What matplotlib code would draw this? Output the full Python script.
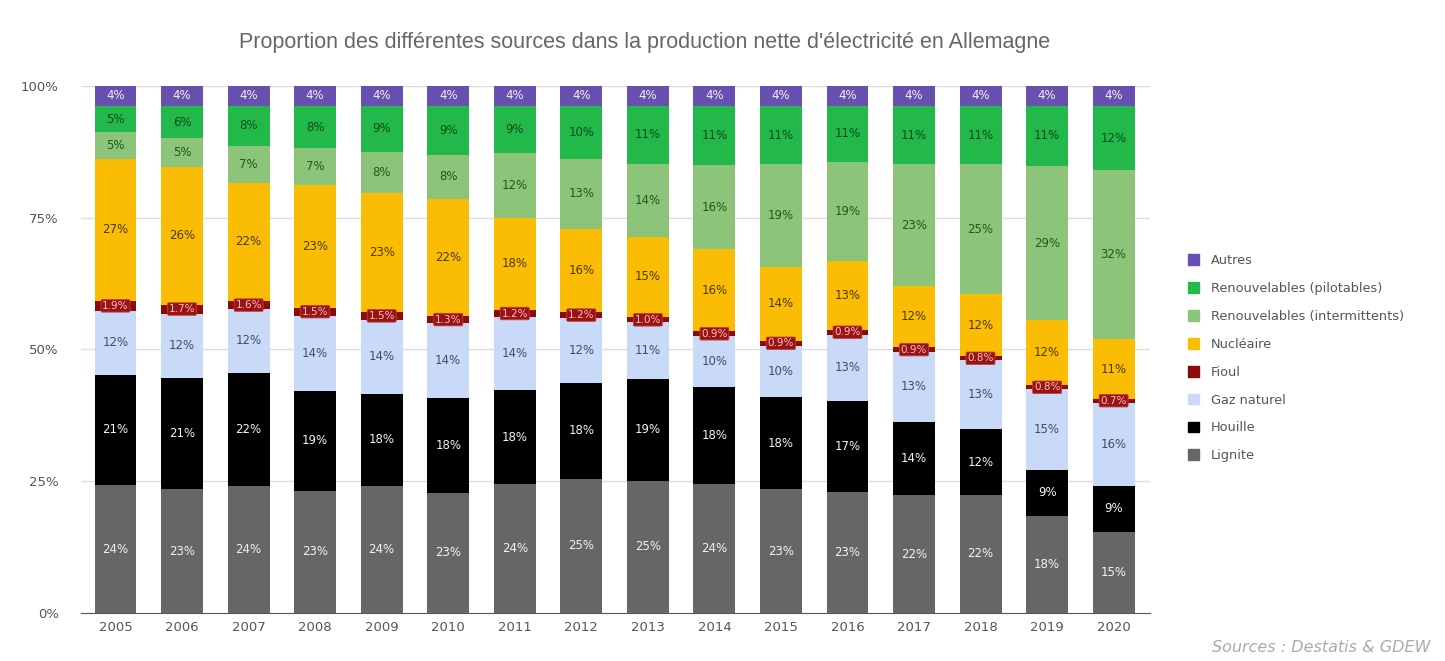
import matplotlib.pyplot as plt
import numpy as np
from matplotlib.patches import Patch

plt.rcParams['font.family'] = ['DejaVu Sans']

years = ['2005', '2006', '2007', '2008', '2009', '2010', '2011', '2012',
         '2013', '2014', '2015', '2016', '2017', '2018', '2019', '2020']

# shares in % (bottom to top of each bar)
lignite = [24.2, 23.4, 24.0, 23.2, 24.0, 22.7, 24.4, 25.4, 25.1, 24.4, 23.4, 23.0, 22.3, 22.4, 18.4, 15.4]
houille = [21.0, 21.2, 21.6, 18.9, 17.6, 18.0, 17.8, 18.2, 19.3, 18.4, 17.6, 17.2, 14.0, 12.4, 8.7, 8.6]
gaz = [12.1, 12.2, 12.0, 14.3, 14.0, 14.3, 14.0, 12.3, 10.7, 9.7, 9.7, 12.6, 13.2, 13.1, 15.3, 15.9]
fioul = [1.9, 1.7, 1.6, 1.5, 1.5, 1.3, 1.2, 1.2, 1.0, 0.9, 0.9, 0.9, 0.9, 0.8, 0.8, 0.7]
nucleaire = [27.0, 26.2, 22.4, 23.3, 22.6, 22.3, 17.6, 15.8, 15.3, 15.6, 14.1, 13.1, 11.7, 11.8, 12.3, 11.3]
intermittents = [5.0, 5.4, 7.0, 7.0, 7.8, 8.3, 12.2, 13.3, 13.8, 16.0, 19.4, 18.8, 23.0, 24.6, 29.3, 32.1]
pilotables = [5.0, 6.1, 7.6, 8.0, 8.7, 9.3, 9.0, 10.0, 11.0, 11.2, 11.1, 10.6, 11.1, 11.1, 11.4, 12.2]
autres = [3.8, 3.8, 3.8, 3.8, 3.8, 3.8, 3.8, 3.8, 3.8, 3.8, 3.8, 3.8, 3.8, 3.8, 3.8, 3.8]

# (name, values, colour, label colour)
series = [
    ('Lignite', lignite, '#666666', '#f2f2f2'),
    ('Houille', houille, '#000000', '#f2f2f2'),
    ('Gaz naturel', gaz, '#c9daf8', '#3d4d6e'),
    ('Fioul', fioul, '#8b0a0a', '#f6c4c4'),
    ('Nucléaire', nucleaire, '#fbbc04', '#4a3a00'),
    ('Renouvelables (intermittents)', intermittents, '#8cc47a', '#1e5a1e'),
    ('Renouvelables (pilotables)', pilotables, '#22b94a', '#0b4a1a'),
    ('Autres', autres, '#6750b0', '#f2f2f2'),
]

fig = plt.figure(figsize=(14.45, 6.61), dpi=100)
ax = fig.add_axes([0.056, 0.073, 0.74, 0.797])

x = np.arange(len(years))
bottom = np.zeros(len(years))
for name, vals, color, tcolor in series:
    vals = np.array(vals)
    ax.bar(x, vals, 0.63, bottom=bottom, color=color, zorder=3)
    for i in range(len(years)):
        yc = bottom[i] + vals[i] / 2
        if name == 'Fioul':
            ax.text(x[i], yc, f'{vals[i]:.1f}%', ha='center', va='center', fontsize=7.5,
                    color=tcolor, zorder=5,
                    bbox=dict(boxstyle='round,pad=0.12', fc='#9b1212', ec='#c04040', lw=0.6))
        else:
            ax.text(x[i], yc, f'{vals[i]:.0f}%', ha='center', va='center', fontsize=8.5,
                    color=tcolor, zorder=4)
    bottom += vals

ax.set_xlim(-0.52, 15.55)
ax.set_ylim(0, 100)
ax.set_yticks([0, 25, 50, 75, 100])
ax.set_yticklabels(['0%', '25%', '50%', '75%', '100%'])
ax.set_xticks(x)
ax.set_xticklabels(years)
ax.tick_params(axis='both', colors='#555555', labelsize=9.5, length=0)
ax.tick_params(axis='y', pad=16)
ax.tick_params(axis='x', pad=6)
for v in [25, 50, 75, 100]:
    ax.axhline(v, color='#dddddd', lw=1, zorder=1)
for s in ['top', 'right', 'left']:
    ax.spines[s].set_visible(False)
ax.spines['bottom'].set_color('#555555')

fig.text(0.446, 0.936, "Proportion des différentes sources dans la production nette d'électricité en Allemagne",
         ha='center', va='center', fontsize=15.5, color='#666666', family='Liberation Sans')

handles = [Patch(color=c, label=n) for n, v, c, t in reversed(series)]
fig.legend(handles=handles, loc='center left', bbox_to_anchor=(0.814, 0.458), frameon=False,
           fontsize=9.3, labelspacing=1.15, handlelength=0.9, handleheight=0.9, handletextpad=0.9,
           labelcolor='#555555')

fig.text(0.99, 0.02, 'Sources : Destatis & GDEW', ha='right', va='center', fontsize=11.5,
         style='italic', color='#aaaaaa')

fig.savefig('out.png', dpi=100)
